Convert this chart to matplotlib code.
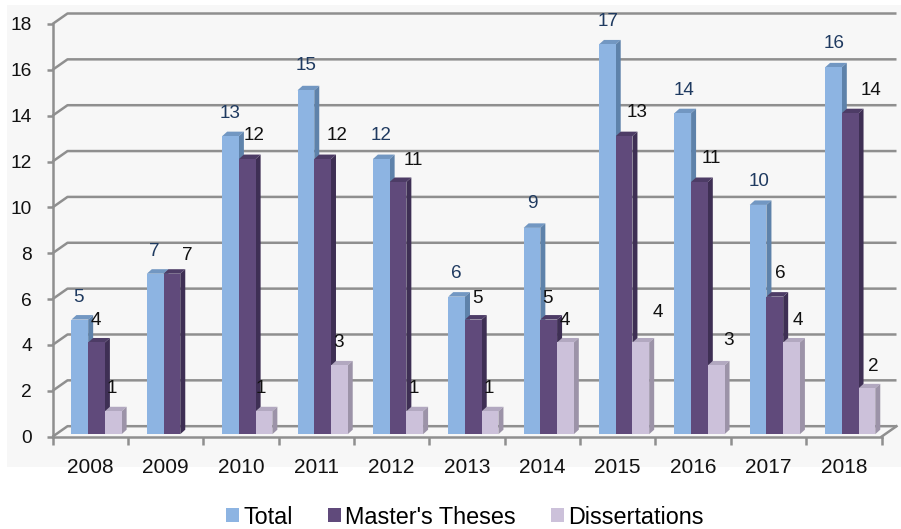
import matplotlib
matplotlib.use("Agg")
import matplotlib.pyplot as plt
from matplotlib.patches import Polygon, Rectangle
from matplotlib.transforms import offset_copy

plt.rcParams['font.family'] = ['Liberation Sans', 'DejaVu Sans']

# ---- data ----
years = ["2008", "2009", "2010", "2011", "2012", "2013", "2014", "2015", "2016", "2017", "2018"]
total = [5, 7, 13, 15, 12, 6, 9, 17, 14, 10, 16]
masters = [4, 7, 12, 12, 11, 5, 5, 13, 11, 6, 14]
dissertations = [1, 0, 1, 3, 1, 1, 4, 4, 3, 4, 2]
series_names = ["Total", "Master's Theses", "Dissertations"]
y_ticks = list(range(0, 19, 2))

# ---- styling ----
front_colors = ["#8DB4E2", "#604A7B", "#CCC1DA"]
side_colors = ["#5E82AA", "#3E2F54", "#9C93A8"]
top_colors = ["#7297C2", "#4D3C66", "#B2A8C0"]
label_colors = ["#1F3A60", "#111111", "#111111"]
grid_color = "#8F8F8F"

# label nudges (pixels): x from bar centre, y above bar top
total_dx = [0, 0, 1, 1, 1, 1, 1, 2, 2, 2, 2]
total_dy = [25, 25, 25, 27, 26, 26, 27, 25, 25, 26, 26]
masters_dx = [0, 16, 8, 16, 16, 5, 0, 14, 13, 7, 22]
masters_dy = [24, 21, 26, 26, 24, 24, 24, 26, 26, 26, 25]
diss_dx = [0, 0, -2, 0, 0, 0, 0, 18, 13, 7, 7]
diss_dy = [25, 25, 25, 25, 25, 25, 24, 32, 27, 24, 24]

W, H, DPI = 901, 529, 100
fig = plt.figure(figsize=(W / DPI, H / DPI), dpi=DPI)
fig.patch.set_facecolor("white")

# light chart-area background
fig.patches.append(Rectangle((7 / W, (H - 467) / H), 1 - 7 / W, (467 - 5) / H,
                             transform=fig.transFigure, facecolor="#F7F7F7",
                             edgecolor="none", zorder=-10))

ax_l, ax_r, ax_b, ax_t = 52.5, 881.5, 436.7, 24.0
ax = fig.add_axes([ax_l / W, (H - ax_b) / H, (ax_r - ax_l) / W, (ax_b - ax_t) / H])
ax.set_facecolor("none")
n = len(years)
ax.set_xlim(0, n)
ax.set_ylim(0, 18)

px_x = (ax_r - ax_l) / n          # pixels per x unit
px_y = (ax_b - ax_t) / 18.0       # pixels per y unit


def ux(p):
    return p / px_x


def uy(p):
    return p / px_y


# ---- back wall gridlines & floor (3-D perspective offset) ----
wall_dx, wall_dy = ux(15), uy(10.5)
for yv in y_ticks:
    ax.plot([0, wall_dx, n + wall_dx], [yv, yv + wall_dy, yv + wall_dy],
            color=grid_color, lw=1.8, clip_on=False, zorder=1,
            solid_capstyle="butt")
# right edge of the floor
ax.plot([n, n + wall_dx], [0, wall_dy], color=grid_color, lw=1.8,
        clip_on=False, zorder=1)

# ---- axes ----
for s in ["top", "right"]:
    ax.spines[s].set_visible(False)
for s in ["left", "bottom"]:
    ax.spines[s].set_color(grid_color)
    ax.spines[s].set_linewidth(1.8)
    ax.spines[s].set_zorder(2)

ax.set_yticks(y_ticks)
ax.set_yticklabels([str(v) for v in y_ticks])
ax.tick_params(axis="y", direction="out", length=4, width=1.8, color=grid_color,
               labelsize=13.8, pad=11, labelcolor="#111111")

ax.set_xticks(range(n + 1))
ax.set_xticklabels([])
ax.set_xticks([i + 0.5 for i in range(n)], minor=True)
ax.set_xticklabels(years, minor=True)
ax.tick_params(axis="x", which="major", direction="out", length=6, width=1.8,
               color=grid_color)
ax.tick_params(axis="x", which="minor", length=0, labelsize=15, pad=15,
               labelcolor="#111111")

# ---- 3-D bars ----
bar_w = 0.222
bar_left = [0.238, 0.460, 0.682]
depth_x, depth_y = ux(5), uy(4.5)
bar_tr = offset_copy(ax.transData, fig=fig, x=1, y=2.5, units="dots")

all_series = [total, masters, dissertations]
all_dx = [total_dx, masters_dx, diss_dx]
all_dy = [total_dy, masters_dy, diss_dy]

for k, vals in enumerate(all_series):
    xs = [i + bar_left[k] for i in range(n)]
    ax.bar(xs, vals, width=bar_w, align="edge", color=front_colors[k],
           edgecolor="none", transform=bar_tr, zorder=5, label=series_names[k])
    for i, v in enumerate(vals):
        if v <= 0:
            continue
        x0, x1 = xs[i], xs[i] + bar_w
        top = Polygon([(x0, v), (x1, v), (x1 + depth_x, v + depth_y),
                       (x0 + depth_x, v + depth_y)], closed=True,
                      facecolor=top_colors[k], edgecolor="none",
                      transform=bar_tr, zorder=4)
        side = Polygon([(x1, 0), (x1 + depth_x, depth_y),
                        (x1 + depth_x, v + depth_y), (x1, v)], closed=True,
                       facecolor=side_colors[k], edgecolor="none",
                       transform=bar_tr, zorder=4)
        ax.add_patch(top)
        ax.add_patch(side)
        lbl_tr = offset_copy(ax.transData, fig=fig, x=all_dx[k][i],
                             y=all_dy[k][i], units="dots")
        ax.text(x0 + bar_w / 2, v, str(v), transform=lbl_tr, ha="center",
                va="center", fontsize=13.6, color=label_colors[k], zorder=7)

# ---- legend ----
handles = [Rectangle((0, 0), 1, 1, facecolor=c, edgecolor="none") for c in front_colors]
fig.legend(handles, series_names, loc="center", bbox_to_anchor=(465 / W, (H - 517) / H),
           ncol=3, frameon=False, fontsize=16.8, handlelength=0.55,
           handleheight=0.55, handletextpad=0.2, columnspacing=1.5,
           borderaxespad=0, borderpad=0)

fig.savefig("out.png", dpi=DPI, facecolor="white")
